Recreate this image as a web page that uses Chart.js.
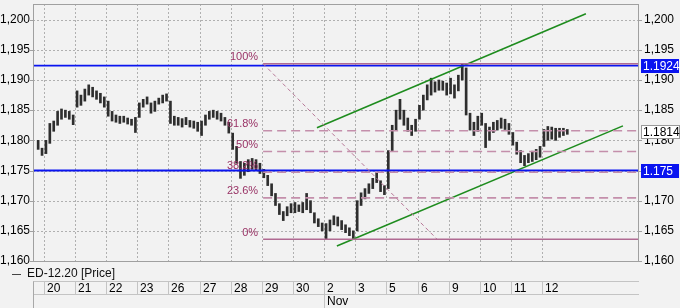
<!DOCTYPE html>
<html><head><meta charset="utf-8">
<script src="https://cdn.jsdelivr.net/npm/chart.js@4.4.1/dist/chart.umd.min.js"></script>
<style>html,body{margin:0;padding:0;background:#f2f2f2;}canvas{display:block}</style>
</head><body>
<canvas id="c" width="680" height="308"></canvas>
<script>
// ---- data ----
const dayLabels = ['20','21','22','23','26','27','28','29','30','2','3','5','6','9','10','11','12'];
const monthLabels = ['Nov'];
const monthStartDay = [9];
const priceTicks = [1.160,1.165,1.170,1.175,1.180,1.185,1.190,1.195,1.200];
const seriesName = 'ED-12.20 [Price]';
// 8 bars per day, first two bars belong to the previous (partial) day
const barLow = [
 1.1785,1.1775,
 1.1778,1.1795,1.1815,1.1825,1.1835,1.1838,1.1835,1.1826,
 1.1855,1.1858,1.1865,1.1875,1.1872,1.1868,1.1862,1.1855,
 1.1840,1.1832,1.1830,1.1828,1.1830,1.1827,1.1825,1.1813,
 1.1838,1.1855,1.1860,1.1845,1.1848,1.1860,1.1862,1.1865,
 1.1828,1.1825,1.1825,1.1822,1.1826,1.1822,1.1820,1.1815,
 1.1808,1.1825,1.1835,1.1838,1.1835,1.1832,1.1825,1.1812,
 1.1785,1.1762,1.1737,1.1742,1.1748,1.1752,1.1750,1.1745,
 1.1738,1.1725,1.1708,1.1692,1.1677,1.1667,1.1675,1.1680,
 1.1680,1.1682,1.1680,1.1685,1.1680,1.1663,1.1657,1.1650,
 1.1637,1.1650,1.1660,1.1658,1.1652,1.1647,1.1642,1.1636,
 1.1650,1.1692,1.1703,1.1712,1.1720,1.1730,1.1715,1.1710,
 1.1720,1.1783,1.1817,1.1835,1.1825,1.1815,1.1808,1.1815,
 1.1835,1.1850,1.1867,1.1875,1.1880,1.1883,1.1883,1.1875,
 1.1877,1.1870,1.1882,1.1900,1.1842,1.1817,1.1808,1.1815,
 1.1825,1.1788,1.1800,1.1813,1.1817,1.1820,1.1818,1.1810,
 1.1792,1.1777,1.1763,1.1758,1.1763,1.1765,1.1768,1.1772,
 1.1790,1.1800,1.1802,1.1800,1.1805,1.1808,1.1810
];
const barHigh = [
 1.1800,1.1787,
 1.1800,1.1828,1.1832,1.1848,1.1852,1.1850,1.1848,1.1842,
 1.1882,1.1875,1.1885,1.1892,1.1888,1.1882,1.1878,1.1872,
 1.1865,1.1848,1.1842,1.1840,1.1840,1.1837,1.1835,1.1838,
 1.1862,1.1868,1.1872,1.1862,1.1865,1.1870,1.1875,1.1877,
 1.1865,1.1840,1.1838,1.1836,1.1838,1.1833,1.1832,1.1830,
 1.1832,1.1842,1.1848,1.1850,1.1848,1.1845,1.1838,1.1830,
 1.1812,1.1790,1.1765,1.1762,1.1768,1.1770,1.1768,1.1762,
 1.1752,1.1742,1.1728,1.1712,1.1695,1.1682,1.1690,1.1695,
 1.1697,1.1693,1.1697,1.1712,1.1700,1.1680,1.1670,1.1663,
 1.1662,1.1668,1.1675,1.1673,1.1667,1.1660,1.1655,1.1650,
 1.1700,1.1713,1.1720,1.1728,1.1737,1.1747,1.1733,1.1725,
 1.1783,1.1825,1.1850,1.1868,1.1850,1.1837,1.1825,1.1835,
 1.1858,1.1875,1.1892,1.1903,1.1897,1.1900,1.1898,1.1895,
 1.1903,1.1892,1.1908,1.1927,1.1920,1.1845,1.1830,1.1840,
 1.1845,1.1828,1.1822,1.1830,1.1833,1.1837,1.1835,1.1828,
 1.1813,1.1797,1.1783,1.1775,1.1778,1.1782,1.1785,1.1790,
 1.1818,1.1823,1.1822,1.1820,1.1820,1.1820,1.1818
];
const barsPerDay = 8;
const firstBarSlot = -2;
const lastPrice = 1.1814;
const hLines = [1.1924, 1.175];
const fibHigh = 1.1927, fibLow = 1.1636;
const fibPercents = [100, 61.8, 50, 38.2, 23.6, 0];
const fibStartDay = 7.04, fibDiagEndDay = 12.63;
const channelUpperX = [8.77, 17.41], channelUpperY = [1.1821, 1.2010];
const channelLowerX = [9.41, 18.60], channelLowerY = [1.1625, 1.1824];
const xMin = -0.353, xMax = 19.116;
const yMin = 1.160, yMax = 1.2026;

// ---- build ----
const FONT = '"Liberation Sans", Arial, sans-serif';
const fibColor = '#993366';
const candles = barLow.map((lo, i) => ({x: (i + firstBarSlot + 0.5) / barsPerDay, y: [lo, barHigh[i]]}));
const lineDs = (data, color, width, dash) => ({type:'line', data, borderColor:color, borderWidth:width,
  borderDash:dash||[], pointRadius:0, fill:false, tension:0, order:0});
const fibValue = p => fibLow + (fibHigh - fibLow) * p / 100;

const datasets = [];
fibPercents.forEach(p => {
  const v = fibValue(p);
  const solid = (p === 100 || p === 0);
  datasets.push(lineDs([{x:fibStartDay,y:v},{x:xMax,y:v}], solid ? '#b06a92' : '#c48fab', solid ? 1.5 : 1.6, solid ? [] : [9,5]));
});
datasets.push(lineDs([{x:fibStartDay,y:fibHigh},{x:fibDiagEndDay,y:fibLow}], '#b87898', 1, [4,3]));
hLines.forEach(v => datasets.push(lineDs([{x:xMin,y:v},{x:xMax,y:v}], '#0a14f0', 1.8)));
datasets.push(lineDs([{x:channelUpperX[0],y:channelUpperY[0]},{x:channelUpperX[1],y:channelUpperY[1]}], '#1e8c1e', 1.6));
datasets.push(lineDs([{x:channelLowerX[0],y:channelLowerY[0]},{x:channelLowerX[1],y:channelLowerY[1]}], '#1e8c1e', 1.6));
datasets.push({type:'bar', data:candles, backgroundColor:'#2e2e2e', borderColor:'#2e2e2e', borderWidth:0,
  borderSkipped:false, barThickness:2, order:5});

const fitY = w => (s) => { s.width = w; s.paddingTop = 0; s.paddingBottom = 0; s.paddingLeft = 0; s.paddingRight = 0; };

const deco = {
  id:'deco',
  beforeDraw(chart){
    const {ctx, width, height} = chart;
    ctx.save(); ctx.fillStyle = '#f2f2f2'; ctx.fillRect(0,0,width,height); ctx.restore();
  },
  beforeDatasetsDraw(chart){
    const {ctx, chartArea:{left,right,top,bottom}} = chart;
    const xs = chart.scales.x, ys = chart.scales.y;
    ctx.save();
    ctx.strokeStyle = '#b0b0b0'; ctx.lineWidth = 1; ctx.setLineDash([2,2]);
    priceTicks.forEach(v => {
      if (v <= yMin) return;
      const y = Math.round(ys.getPixelForValue(v)) + 0.5;
      ctx.beginPath(); ctx.moveTo(left, y); ctx.lineTo(right, y); ctx.stroke();
    });
    dayLabels.forEach((d, i) => {
      const x = Math.round(xs.getPixelForValue(i)) + 0.5;
      ctx.beginPath(); ctx.moveTo(x, top); ctx.lineTo(x, bottom); ctx.stroke();
    });
    ctx.restore();
  },
  afterDraw(chart){
    const {ctx, chartArea:{left,right,top,bottom}} = chart;
    const xs = chart.scales.x, ys = chart.scales.y;
    ctx.save();
    // fib labels
    ctx.font = '11px ' + FONT; ctx.fillStyle = fibColor; ctx.textAlign = 'right'; ctx.textBaseline = 'bottom';
    const fx = xs.getPixelForValue(fibStartDay) - 5;
    fibPercents.forEach(p => {
      const y = ys.getPixelForValue(fibValue(p));
      ctx.fillText(p + '%', fx, y - 1);
    });
    // frame
    ctx.strokeStyle = '#a0a0a0'; ctx.lineWidth = 1; ctx.setLineDash([]);
    ctx.strokeRect(left + 0.5, top + 0.5, right - left - 1, bottom - top);
    // tick marks
    priceTicks.forEach(v => {
      const y = Math.round(ys.getPixelForValue(v)) + 0.5;
      ctx.beginPath(); ctx.moveTo(left - 3, y); ctx.lineTo(left, y);
      ctx.moveTo(right, y); ctx.lineTo(right + 3, y); ctx.stroke();
    });
    // right side price boxes
    ctx.font = '12px ' + FONT; ctx.textAlign = 'left'; ctx.textBaseline = 'middle';
    hLines.forEach(v => {
      const y = Math.round(ys.getPixelForValue(v));
      ctx.fillStyle = '#0a14f0'; ctx.fillRect(right + 2, y - 7, 38, 14);
      ctx.fillStyle = '#ffffff'; ctx.fillText(String(v), right + 4, y + 0.5);
    });
    {
      const y = Math.round(ys.getPixelForValue(lastPrice));
      ctx.fillStyle = '#ffffff'; ctx.fillRect(right + 2, y - 7, 39, 14);
      ctx.strokeStyle = '#9a9a9a'; ctx.strokeRect(right + 2.5, y - 6.5, 38, 13);
      ctx.fillStyle = '#000000'; ctx.fillText(String(lastPrice), right + 4, y + 0.5);
    }
    // legend
    ctx.strokeStyle = '#444'; ctx.beginPath(); ctx.moveTo(12, 274.5); ctx.lineTo(21, 274.5); ctx.stroke();
    ctx.fillStyle = '#111'; ctx.font = '12px ' + FONT; ctx.fillText(seriesName, 27, 274);
    // date strip
    const sTop = 281.5, sBot = 294.5, H = chart.height;
    ctx.strokeStyle = '#c4c4c4';
    ctx.beginPath(); ctx.moveTo(left, sTop); ctx.lineTo(right, sTop); ctx.moveTo(left, sBot); ctx.lineTo(right, sBot); ctx.stroke();
    ctx.strokeStyle = '#a8a8a8';
    ctx.beginPath(); ctx.moveTo(left + 0.5, sTop); ctx.lineTo(left + 0.5, H); ctx.stroke();
    ctx.fillStyle = '#000';
    dayLabels.forEach((d, i) => {
      const x = Math.round(xs.getPixelForValue(i)) + 0.5;
      ctx.strokeStyle = '#c4c4c4';
      ctx.beginPath(); ctx.moveTo(x, sTop); ctx.lineTo(x, sBot); ctx.stroke();
      ctx.fillText(d, x + 2.5, 288.5);
    });
    monthLabels.forEach((m, k) => {
      const x = Math.round(xs.getPixelForValue(monthStartDay[k])) + 0.5;
      ctx.strokeStyle = '#c4c4c4';
      ctx.beginPath(); ctx.moveTo(x, sBot); ctx.lineTo(x, H); ctx.stroke();
      ctx.fillText(m, x + 2.5, 301.5);
    });
    ctx.restore();
  }
};

new Chart(document.getElementById('c'), {
  type:'bar',
  data:{datasets},
  options:{
    responsive:false, animation:false, events:[],
    layout:{padding:{top:4, bottom:47, left:0, right:0}},
    plugins:{legend:{display:false}, tooltip:{enabled:false}},
    scales:{
      x:{type:'linear', min:xMin, max:xMax, display:false, offset:false, grid:{offset:false}},
      y:{type:'linear', position:'left', min:yMin, max:yMax,
         grid:{display:false, drawTicks:false}, border:{display:false},
         afterBuildTicks: s => { s.ticks = priceTicks.map(v => ({value:v})); },
         afterFit: fitY(33),
         ticks:{padding:3, color:'#000', font:{family:FONT, size:12},
                callback: v => v.toFixed(3).replace('.', ',')}},
      y2:{type:'linear', position:'right', min:yMin, max:yMax,
         grid:{display:false, drawTicks:false}, border:{display:false},
         afterBuildTicks: s => { s.ticks = priceTicks.map(v => ({value:v})); },
         afterFit: fitY(41),
         ticks:{padding:5, color:'#000', font:{family:FONT, size:12},
                callback: v => v.toFixed(3).replace('.', ',')}}
    }
  },
  plugins:[deco]
});
</script>
</body></html>
